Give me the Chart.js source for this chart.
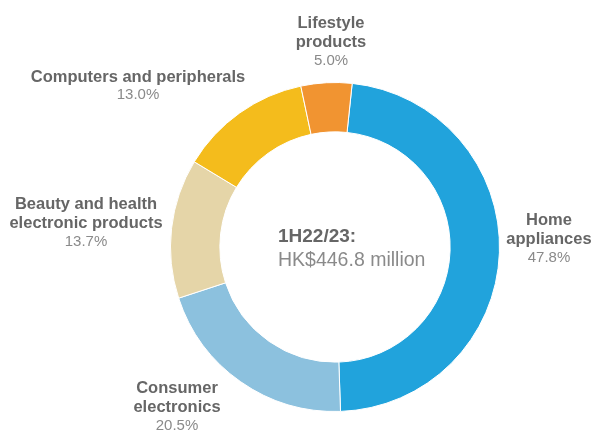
<!DOCTYPE html>
<html>
<head>
<meta charset="utf-8">
<script src="https://cdn.jsdelivr.net/npm/chart.js@4/dist/chart.umd.min.js"></script>
<style>
  html, body { margin: 0; padding: 0; background: #fff; }
  canvas { display: block; }
</style>
</head>
<body>
<canvas id="mix-chart" width="593" height="430"></canvas>
<script>
// segment data (clockwise from top)
const categories = [
  ['Home', 'appliances'],
  ['Consumer', 'electronics'],
  ['Beauty and health', 'electronic products'],
  ['Computers and peripherals'],
  ['Lifestyle', 'products']
]
const shares = [47.8, 20.5, 13.7, 13.0, 5.0]
const colors = ['#21a3dc', '#8cc1de', '#e5d5a8', '#f4bc1c', '#f19431']
const centerTitle = '1H22/23:'
const centerValue = 'HK$446.8 million'

// label anchors (centre x, first line y)
const labelSpots = [
  {x: 549, y: 220},
  {x: 177, y: 388},
  {x: 86, y: 204},
  {x: 138, y: 77},
  {x: 331, y: 23}
]

const FONT = '"Liberation Sans", Arial, Helvetica, sans-serif'

const labelPlugin = {
  id: 'outerLabels',
  afterDraw (chart) {
    let ctx = chart.ctx,
        meta = chart.getDatasetMeta(0)
    ctx.save()
    ctx.textAlign = 'center'
    ctx.textBaseline = 'middle'

    categories.forEach(function (lines, i) {
      let spot = labelSpots[i],
          y    = spot.y
      ctx.font = 'bold 16.5px ' + FONT
      ctx.fillStyle = '#666666'
      lines.forEach(function (line) {
        ctx.fillText(line, spot.x, y)
        y += 19.5
      })
      ctx.font = '15px ' + FONT
      ctx.fillStyle = '#8a8a8a'
      ctx.fillText(shares[i].toFixed(1) + '%', spot.x, y - 1.5)
    })

    // centre text
    let arc = meta.data[0]
    ctx.textAlign = 'left'
    ctx.font = 'bold 19px ' + FONT
    ctx.fillStyle = '#666666'
    ctx.fillText(centerTitle, arc.x - 57, arc.y - 10)
    ctx.font = '19.5px ' + FONT
    ctx.fillStyle = '#8a8a8a'
    ctx.fillText(centerValue, arc.x - 57, arc.y + 14)
    ctx.restore()
  }
}

new Chart(document.getElementById('mix-chart'), {
  type   : 'doughnut',
  data   : {
    labels  : categories.map(l => l.join(' ')),
    datasets: [{
      data           : shares,
      backgroundColor: colors,
      borderColor    : '#ffffff',
      borderWidth    : 1
    }]
  },
  options: {
    responsive: false,
    animation : false,
    rotation  : 6,
    cutout    : '70%',
    layout    : {
      padding: {top: 82, bottom: 18, left: 170, right: 93}
    },
    plugins: {
      legend : {display: false},
      tooltip: {enabled: false}
    }
  },
  plugins: [labelPlugin]
})
</script>
</body>
</html>
